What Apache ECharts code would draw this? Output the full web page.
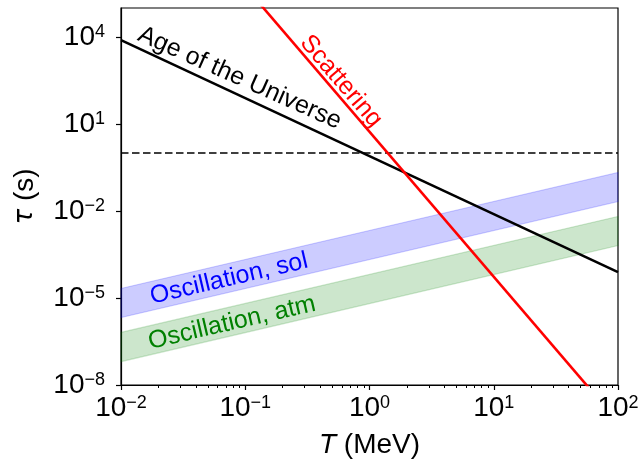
<!DOCTYPE html>
<html><head><meta charset="utf-8">
<script src="https://cdn.jsdelivr.net/npm/echarts@6/dist/echarts.min.js"></script>
<style>html,body{margin:0;padding:0;background:#fff}#c{width:642px;height:459px}</style>
</head><body><div id="c"></div>
<script>
// ---- data (physical units: T in MeV, tau in s) ----
const xTickExponents = [-2, -1, 0, 1, 2];
const yTickExponents = [-8, -5, -2, 1, 4];
const ageT = [0.01, 100];
const ageTau = [7.8e3, 7.8e-5];
const scatT = [0.1, 100];
const scatTau = [5.4e5, 5.4e-10];
const refT = [0.01, 100];
const refTau = [1, 1];
const solT = [0.01, 100];
const solLower = [2.12e-6, 2.12e-2];
const solUpper = [2.13e-5, 2.13e-1];
const atmT = [0.01, 100];
const atmLower = [6.4e-8, 6.4e-4];
const atmUpper = [6.5e-7, 6.5e-3];
const labelNames = ['Age of the Universe', 'Scattering', 'Oscillation, sol', 'Oscillation, atm'];
const labelT = [0.0902, 0.589, 0.074, 0.0782];
const labelTau = [380, 295, 4.6e-5, 1.39e-6];

// ---- presentation ----
const labelRot = [-24, -49.5, 13.1, 13.1];
const labelCol = ['#000000', '#ff0000', '#0000ff', '#008000'];
const L = Math.log10;
const FONT = 'Liberation Sans';
const pairs = (xs, ys) => xs.map((x, i) => [L(x), L(ys[i])]);
const minorX = [];
for (let d = -2; d < 2; d++) for (let k = 2; k <= 9; k++) minorX.push(d + L(k));
const expFmt = v => '{b|10}{s|' + (v < 0 ? '\u2212' + (-v) : String(v)) + '}';
const tickRich = {
  b: {fontSize: 28, fontFamily: FONT, color: '#000'},
  s: {fontSize: 18, fontFamily: FONT, color: '#000', padding: [0, 0, 9, 0]}
};

function band(T, lo, hi, fill) {
  return {
    type: 'custom', silent: true, z: 1,
    data: pairs(T, lo),
    renderItem: (params, api) => {
      if (params.dataIndex !== 0) return null;
      const pts = [];
      for (let i = 0; i < T.length; i++) pts.push(api.coord([L(T[i]), L(hi[i])]));
      for (let i = T.length - 1; i >= 0; i--) pts.push(api.coord([L(T[i]), L(lo[i])]));
      return {type: 'polygon', shape: {points: pts},
        style: {fill: fill, stroke: fill, lineWidth: 1.2}};
    }
  };
}
function line(T, tau, color, width, type) {
  return {type: 'line', data: pairs(T, tau), showSymbol: false, symbol: 'none',
    clip: true, silent: true, z: 3,
    lineStyle: {color: color, width: width, type: type || 'solid'}};
}

const chart = echarts.init(document.getElementById('c'), null, {renderer: 'canvas'});
chart.setOption({
  animation: false,
  grid: {left: 121, right: 24, top: 8, bottom: 74, containLabel: false, outerBoundsMode: 'none',
    show: true, borderColor: '#000', borderWidth: 1.2, backgroundColor: 'transparent'},
  xAxis: [{
    type: 'value', min: -2, max: 2, interval: 1, position: 'bottom',
    axisLine: {show: true, onZero: false, lineStyle: {color: '#000', width: 1.2}},
    axisTick: {show: true, inside: false, length: 5, lineStyle: {color: '#000', width: 1.2}},
    axisLabel: {margin: 9, formatter: expFmt, rich: tickRich, customValues: xTickExponents},
    splitLine: {show: false},
    name: '{i|T} (MeV)', nameLocation: 'middle', nameGap: 46,
    nameTextStyle: {fontSize: 28, fontFamily: FONT, color: '#000',
      rich: {i: {fontSize: 28, fontFamily: FONT, fontStyle: 'italic', color: '#000'}}}
  }, {
    type: 'value', min: -2, max: 2, position: 'bottom',
    axisLine: {show: false, onZero: false},
    axisTick: {show: true, inside: false, length: 3, customValues: minorX, lineStyle: {color: '#000', width: 1}},
    axisLabel: {show: false}, splitLine: {show: false}
  }],
  yAxis: [{
    type: 'value', min: -8, max: 5, interval: 3, position: 'left',
    axisLine: {show: true, onZero: false, lineStyle: {color: '#000', width: 1.2}},
    axisTick: {show: true, inside: false, length: 5, customValues: yTickExponents, lineStyle: {color: '#000', width: 1.2}},
    axisLabel: {margin: 16, formatter: expFmt, rich: tickRich, customValues: yTickExponents},
    splitLine: {show: false},
    name: '{t|\u03c4} (s)', nameLocation: 'middle', nameGap: 82, nameRotate: 90,
    nameTextStyle: {fontSize: 28, fontFamily: FONT, color: '#000',
      rich: {t: {fontSize: 26, fontFamily: 'DejaVu Sans', fontStyle: 'italic', color: '#000'}}}
  }],
  series: [
    band(solT, solLower, solUpper, 'rgba(0,0,255,0.2)'),
    band(atmT, atmLower, atmUpper, 'rgba(0,128,0,0.2)'),
    line(refT, refTau, '#000', 1.5, [7.5, 3.5]),
    line(ageT, ageTau, '#000', 2.6),
    line(scatT, scatTau, '#ff0000', 2.6),
    {
      type: 'scatter', symbolSize: 0.1, silent: true, z: 5,
      itemStyle: {color: 'transparent', opacity: 1},
      data: labelNames.map((n, i) => ({
        value: [L(labelT[i]), L(labelTau[i])],
        label: {show: true, position: 'inside', formatter: n, rotate: labelRot[i],
          color: labelCol[i], opacity: 1, fontSize: 25, fontFamily: FONT}
      }))
    }
  ]
});
</script>
</body></html>
